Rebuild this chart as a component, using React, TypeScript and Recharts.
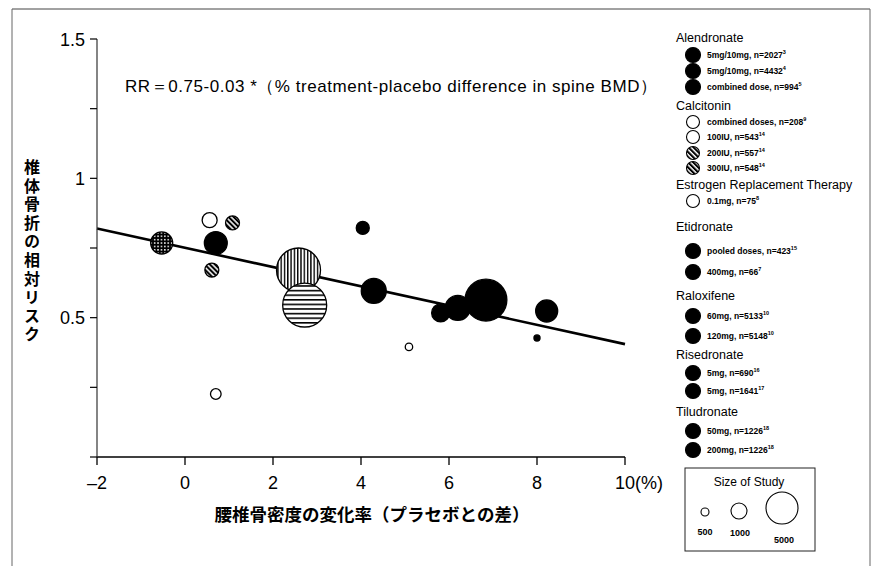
import { ScatterChart, Scatter, XAxis, YAxis, ZAxis, ReferenceLine } from "recharts"

// study points, grouped by marker fill (x = % BMD difference, y = relative risk, n = study size)
const blackX = [0.7, 4.04, 4.29, 5.81, 6.2, 6.84, 8.22, 8.0]
const blackY = [0.768, 0.822, 0.596, 0.517, 0.535, 0.563, 0.524, 0.427]
const blackN = [2100, 680, 2500, 1300, 2500, 7000, 1940, 150]

const openX = [0.56, 5.09, 0.7]
const openY = [0.85, 0.395, 0.226]
const openN = [900, 220, 450]

const diagX = [1.08, 0.61]
const diagY = [0.84, 0.671]
const diagN = [780, 780]

const crossX = [-0.53]
const crossY = [0.768]
const crossN = [1940]

const vertX = [2.58]
const vertY = [0.671]
const vertN = [7740]

const horizX = [2.72]
const horizY = [0.545]
const horizN = [7740]

// regression line end points
const fitX = [-2, 10]
const fitY = [0.82, 0.405]

const xTicks = [-2, 0, 2, 4, 6, 8, 10]
const yTicks = [0, 0.25, 0.5, 0.75, 1, 1.25, 1.5]
const yTickLabels = ["", "", "0.5", "", "1", "", "1.5"]

const legendHeadings = ["Alendronate", "Calcitonin", "Estrogen Replacement Therapy", "Etidronate", "Raloxifene", "Risedronate", "Tiludronate"]
const legendHeadingY = [37, 105, 184, 226, 295, 354, 411]
const legendItems = [
  "5mg/10mg, n=2027", "5mg/10mg, n=4432", "combined dose, n=994",
  "combined doses, n=208", "100IU, n=543", "200IU, n=557", "300IU, n=548",
  "0.1mg, n=75",
  "pooled doses, n=423", "400mg, n=66",
  "60mg, n=5133", "120mg, n=5148",
  "5mg, n=690", "5mg, n=1641",
  "50mg, n=1226", "200mg, n=1226",
]
const legendRefs = ["3", "4", "5", "9", "14", "14", "14", "8", "15", "7", "10", "10", "16", "17", "18", "18"]
const legendKinds = ["black", "black", "black", "open", "open", "diag", "diag", "open", "black", "black", "black", "black", "black", "black", "black", "black"]
const legendItemY = [55, 71, 87, 122, 137, 153, 168, 201, 251, 272, 316, 336, 373, 391, 431, 450]

const sizeLabels = ["500", "1000", "5000"]

const FONT = "'Liberation Sans', Arial, Helvetica, sans-serif"
const JP = "'Noto Sans CJK JP', 'Noto Sans', sans-serif"

const fills: Record<string, string> = {
  black: "#000",
  open: "#fff",
  diag: "url(#pDiag)",
  cross: "url(#pCross)",
  vert: "url(#pVert)",
  horiz: "url(#pHoriz)",
}

const pts = (xs: number[], ys: number[], ns: number[]) => xs.map((x, i) => ({ x, y: ys[i], n: ns[i] }))

const makeShape = (kind: string) => (props: any) => {
  const { cx, cy, width, size } = props
  const r = width ? width / 2 : Math.sqrt((size || 64) / Math.PI)
  return <circle cx={cx} cy={cy} r={r} fill={fills[kind]} stroke="#000" strokeWidth={1.3} />
}

const XTick = (props: any) => {
  const { x, y, payload } = props
  const v = payload.value
  if (v === 10) {
    return (
      <text x={x - 10} y={y} dy={22} fontSize={18} fontFamily={FONT} fill="#000" textAnchor="start">10(%)</text>
    )
  }
  return (
    <text x={x} y={y} dy={22} fontSize={18} fontFamily={FONT} fill="#000" textAnchor="middle">
      {v < 0 ? "\u2013" + Math.abs(v) : String(v)}
    </text>
  )
}

const YTick = (props: any) => {
  const { x, y, index } = props
  return (
    <text x={x} y={y} dx={-3} dy={6.5} fontSize={18} fontFamily={FONT} fill="#000" textAnchor="end">
      {yTickLabels[index]}
    </text>
  )
}

function LegendMarker({ cx, cy, kind }: { cx: number; cy: number; kind: string }) {
  const r = kind === "black" ? 7.5 : 6.5
  return <circle cx={cx} cy={cy} r={r} fill={fills[kind]} stroke="#000" strokeWidth={1.1} />
}

export default function App() {
  return (
    <div style={{ position: "absolute", left: 0, top: 0, width: 878, height: 566, background: "#fff" }}>
      <svg width={878} height={566} style={{ position: "absolute", left: 0, top: 0 }}>
        <defs>
          <pattern id="pDiag" width="3.6" height="3.6" patternUnits="userSpaceOnUse" patternTransform="rotate(-45)">
            <rect width="3.6" height="3.6" fill="#fff" />
            <rect width="2.1" height="3.6" fill="#000" />
          </pattern>
          <pattern id="pCross" width="3.4" height="3.4" patternUnits="userSpaceOnUse">
            <rect width="3.4" height="3.4" fill="#000" />
            <rect x="0.9" y="0.9" width="1.5" height="1.5" fill="#fff" />
          </pattern>
          <pattern id="pVert" width="3.3" height="3.3" patternUnits="userSpaceOnUse">
            <rect width="3.3" height="3.3" fill="#fff" />
            <rect width="1.4" height="3.3" fill="#000" />
          </pattern>
          <pattern id="pHoriz" width="4.6" height="4.6" patternUnits="userSpaceOnUse">
            <rect width="4.6" height="4.6" fill="#fff" />
            <rect width="4.6" height="1.6" fill="#000" />
          </pattern>
        </defs>
        {/* scanned page frame */}
        <line x1={12} y1={9} x2={870} y2={9} stroke="#444" strokeWidth={1} />
        <line x1={12} y1={9} x2={12} y2={566} stroke="#666" strokeWidth={1} />
        <line x1={870} y1={9} x2={870} y2={566} stroke="#666" strokeWidth={1} />

        {/* axis titles */}
        <text
          x={32}
          y={159}
          fontSize={16}
          fontWeight={700}
          fontFamily={JP}
          fill="#000"
          letterSpacing={2.6}
          style={{ writingMode: "vertical-rl" }}
        >
          椎体骨折の相対リスク
        </text>
        <text x={372} y={521} fontSize={17.5} fontWeight={700} fontFamily={JP} fill="#000" textAnchor="middle">
          腰椎骨密度の変化率（プラセボとの差）
        </text>
        <text x={125} y={92} fontSize={17} fontFamily={FONT} fill="#000" textLength={532} lengthAdjust="spacing">
          RR＝0.75-0.03 *（% treatment-placebo difference in spine BMD）
        </text>

        {/* legend */}
        {legendHeadings.map((h, i) => (
          <text key={h} x={676} y={legendHeadingY[i] + 4.5} fontSize={12.5} fontFamily={FONT} fill="#000">{h}</text>
        ))}
        {legendItems.map((t, i) => (
          <g key={i}>
            <LegendMarker cx={693} cy={legendItemY[i]} kind={legendKinds[i]} />
            <text x={707} y={legendItemY[i] + 3.2} fontSize={8.5} fontWeight={700} fontFamily={FONT} fill="#000">
              {t}
              <tspan fontSize={5.5} dy={-4}>{legendRefs[i]}</tspan>
            </text>
          </g>
        ))}

        {/* size of study key */}
        <rect x={685} y={468} width={130} height={83} fill="none" stroke="#222" strokeWidth={1} />
        <text x={749} y={486} fontSize={12} fontFamily={FONT} fill="#000" textAnchor="middle">Size of Study</text>
        <circle cx={705} cy={512} r={4} fill="#fff" stroke="#000" strokeWidth={1.1} />
        <circle cx={739} cy={511} r={8} fill="#fff" stroke="#000" strokeWidth={1.1} />
        <circle cx={782} cy={508} r={16} fill="#fff" stroke="#000" strokeWidth={1.1} />
        <text x={705} y={535} fontSize={9} fontWeight={700} fontFamily={FONT} fill="#000" textAnchor="middle">{sizeLabels[0]}</text>
        <text x={740} y={536} fontSize={9} fontWeight={700} fontFamily={FONT} fill="#000" textAnchor="middle">{sizeLabels[1]}</text>
        <text x={784} y={543} fontSize={9} fontWeight={700} fontFamily={FONT} fill="#000" textAnchor="middle">{sizeLabels[2]}</text>
      </svg>

      <div style={{ position: "absolute", left: 0, top: 0 }}>
        <ScatterChart width={878} height={566} margin={{ top: 39, right: 253, bottom: 79, left: 37 }}>
          <XAxis
            type="number"
            dataKey="x"
            domain={[-2, 10]}
            ticks={xTicks}
            interval={0}
            height={30}
            tickSize={8}
            tick={<XTick />}
            axisLine={{ stroke: "#000", strokeWidth: 1.4 }}
            tickLine={{ stroke: "#000", strokeWidth: 1.3 }}
          />
          <YAxis
            type="number"
            dataKey="y"
            domain={[0, 1.5]}
            ticks={yTicks}
            interval={0}
            width={60}
            tickSize={7}
            tick={<YTick />}
            axisLine={{ stroke: "#333", strokeWidth: 1.2 }}
            tickLine={{ stroke: "#000", strokeWidth: 1.2 }}
          />
          <ZAxis type="number" dataKey="n" domain={[0, 10000]} range={[0, 1963.5]} />
          <Scatter data={pts(crossX, crossY, crossN)} shape={makeShape("cross")} isAnimationActive={false} />
          <Scatter data={pts(openX, openY, openN)} shape={makeShape("open")} isAnimationActive={false} />
          <Scatter data={pts(diagX, diagY, diagN)} shape={makeShape("diag")} isAnimationActive={false} />
          <Scatter data={pts(vertX, vertY, vertN)} shape={makeShape("vert")} isAnimationActive={false} />
          <Scatter data={pts(horizX, horizY, horizN)} shape={makeShape("horiz")} isAnimationActive={false} />
          <Scatter data={pts(blackX, blackY, blackN)} shape={makeShape("black")} isAnimationActive={false} />
          <ReferenceLine
            segment={[{ x: fitX[0], y: fitY[0] }, { x: fitX[1], y: fitY[1] }]}
            stroke="#000"
            strokeWidth={2.6}
          />
        </ScatterChart>
      </div>
    </div>
  )
}
